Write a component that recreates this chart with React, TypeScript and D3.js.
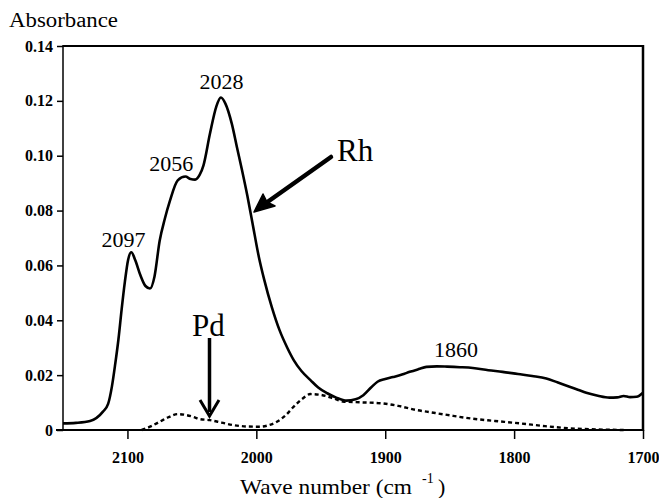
import React, { useEffect, useRef } from "react";
import * as d3 from "d3";

// Rh spectrum (solid)
const rhWave = [2150, 2140, 2129, 2119, 2115, 2112, 2109.5, 2107, 2104.5, 2102, 2099.5, 2097, 2094, 2090, 2086, 2082.5, 2079, 2075, 2071, 2067, 2061, 2055, 2051, 2047.5, 2044, 2041, 2036, 2031, 2027.5, 2024, 2019, 2015, 2011, 2007, 2003, 1998, 1994, 1988, 1982, 1976, 1971, 1965, 1958, 1952, 1945, 1938, 1930, 1923, 1917, 1911, 1906, 1900, 1894, 1887, 1881, 1874, 1868, 1860, 1852, 1842, 1832, 1820, 1809, 1797, 1786, 1775, 1766, 1757, 1750, 1744, 1735, 1726, 1720, 1715, 1710, 1705, 1700];
const rhAbs = [0.0024, 0.0026, 0.0033, 0.0067, 0.0095, 0.016, 0.024, 0.033, 0.044, 0.054, 0.062, 0.0648, 0.062, 0.0565, 0.0525, 0.0516, 0.056, 0.069, 0.077, 0.0836, 0.091, 0.0924, 0.0915, 0.0913, 0.093, 0.0965, 0.108, 0.118, 0.1212, 0.119, 0.1116, 0.103, 0.0945, 0.0855, 0.0755, 0.063, 0.055, 0.0448, 0.0364, 0.03, 0.0255, 0.0215, 0.0182, 0.0155, 0.0134, 0.0118, 0.0107, 0.0112, 0.0127, 0.0155, 0.0176, 0.0186, 0.0193, 0.0202, 0.0212, 0.0222, 0.023, 0.0232, 0.0231, 0.0229, 0.0226, 0.0218, 0.0212, 0.0204, 0.0197, 0.0188, 0.0173, 0.0158, 0.0146, 0.0136, 0.0125, 0.0118, 0.0119, 0.0124, 0.012, 0.0121, 0.0136];

// Pd spectrum (dotted)
const pdWave = [2089, 2082, 2075, 2068, 2061, 2055, 2049, 2044, 2036, 2027, 2018, 2008, 1997, 1990, 1984, 1977, 1971, 1964, 1958, 1950, 1940, 1933, 1920, 1902, 1890, 1876, 1864, 1852, 1832, 1815, 1795, 1776, 1756, 1735, 1715];
const pdAbs = [0, 0.0013, 0.003, 0.0047, 0.0058, 0.0055, 0.0048, 0.004, 0.0036, 0.0027, 0.0018, 0.0013, 0.0012, 0.0018, 0.003, 0.0055, 0.0085, 0.0115, 0.0131, 0.0128, 0.0115, 0.0104, 0.0101, 0.0097, 0.0088, 0.0073, 0.0064, 0.0055, 0.0041, 0.0033, 0.0024, 0.0014, 0.0006, 0.0002, 0];

const xTicks = [2100, 2000, 1900, 1800, 1700];
const yTicks = [0, 0.02, 0.04, 0.06, 0.08, 0.1, 0.12, 0.14];

// peak labels [wavenumber, absorbance of label baseline, text]
const peakLabels: [number, number, string][] = [
  [2103, 0.0668, "2097"],
  [2066, 0.0945, "2056"],
  [2027, 0.1245, "2028"],
  [1845, 0.0265, "1860"],
];

const serif = "'Liberation Serif', 'Times New Roman', serif";

export default function App() {
  const ref = useRef<SVGSVGElement>(null);

  useEffect(() => {
    const svg = d3.select(ref.current);
    svg.selectAll("*").remove();

    const x = d3.scaleLinear().domain([2150, 1700]).range([63, 643]);
    const y = d3.scaleLinear().domain([0, 0.14]).range([430, 46]);

    // y axis
    const gy = svg.append("g")
      .attr("transform", "translate(63,0)")
      .call(d3.axisLeft(y).tickValues(yTicks).tickSize(6).tickSizeOuter(0).tickPadding(4)
        .tickFormat(d => (+d === 0 ? "0" : d3.format(".2f")(+d))));
    gy.select(".domain").remove();
    gy.attr("font-family", null).attr("font-size", null);
    gy.selectAll("text").style("font-family", serif).style("font-size", "16px").style("font-weight", "bold").attr("fill", "#000");
    gy.selectAll("line").attr("stroke", "#000").attr("stroke-width", 1.5);

    // x axis
    const gx = svg.append("g")
      .attr("transform", "translate(0,430)")
      .call(d3.axisBottom(x).tickValues(xTicks).tickSize(9).tickSizeOuter(0).tickPadding(13)
        .tickFormat(d3.format("d")));
    gx.select(".domain").remove();
    gx.attr("font-family", null).attr("font-size", null);
    gx.selectAll("text").style("font-family", serif).style("font-size", "16px").style("font-weight", "bold").attr("fill", "#000");
    gx.selectAll("line").attr("stroke", "#000").attr("stroke-width", 1.5);

    // frame
    svg.append("line").attr("x1", 63).attr("x2", 63).attr("y1", 45).attr("y2", 431).attr("stroke", "#000").attr("stroke-width", 1.5);
    svg.append("line").attr("x1", 56).attr("x2", 643).attr("y1", 430).attr("y2", 430).attr("stroke", "#000").attr("stroke-width", 2);
    svg.append("line").attr("x1", 63).attr("x2", 643).attr("y1", 46).attr("y2", 46).attr("stroke", "#000").attr("stroke-width", 2);
    svg.append("line").attr("x1", 643).attr("x2", 643).attr("y1", 45).attr("y2", 431).attr("stroke", "#000").attr("stroke-width", 2.5);

    const line = d3.line<[number, number]>()
      .x(d => x(d[0]))
      .y(d => y(d[1]))
      .curve(d3.curveMonotoneX);

    const rh = rhWave.map((w, i) => [w, rhAbs[i]] as [number, number]);
    const pd = pdWave.map((w, i) => [w, pdAbs[i]] as [number, number]);

    svg.append("path").attr("d", line(pd)).attr("fill", "none").attr("stroke", "#000")
      .attr("stroke-width", 2.4).attr("stroke-dasharray", "4,3");
    svg.append("path").attr("d", line(rh)).attr("fill", "none").attr("stroke", "#000")
      .attr("stroke-width", 2.6).attr("stroke-linejoin", "round");

    // peak labels
    svg.selectAll("text.peak").data(peakLabels).enter().append("text")
      .attr("class", "peak")
      .attr("x", d => x(d[0]))
      .attr("y", d => y(d[1]))
      .attr("text-anchor", "middle")
      .style("font-family", serif).style("font-size", "22px")
      .text(d => d[2]);

    // Rh arrow
    svg.append("text").attr("x", 337).attr("y", 161).style("font-family", serif).style("font-size", "31px").text("Rh");
    svg.append("line").attr("x1", 331).attr("y1", 157).attr("x2", 266).attr("y2", 203)
      .attr("stroke", "#000").attr("stroke-width", 4.5).attr("stroke-linecap", "round");
    svg.append("path").attr("d", "M254,212 L263,194 L267,202 L275,206 Z").attr("fill", "#000").attr("stroke", "#000").attr("stroke-width", 1.5).attr("stroke-linejoin", "round");

    // Pd arrow
    svg.append("text").attr("x", 192).attr("y", 336).style("font-family", serif).style("font-size", "31px").text("Pd");
    svg.append("line").attr("x1", 209.5).attr("y1", 338).attr("x2", 209.5).attr("y2", 412)
      .attr("stroke", "#000").attr("stroke-width", 3.5);
    svg.append("path").attr("d", "M200,400 L209.5,416 L219,400").attr("fill", "none").attr("stroke", "#000").attr("stroke-width", 3);

    // axis titles
    svg.append("text").attr("x", 9).attr("y", 27).style("font-family", serif).style("font-size", "20px")
      .attr("textLength", 109).attr("lengthAdjust", "spacingAndGlyphs").text("Absorbance");
    const t = svg.append("text").attr("x", 240).attr("y", 494).style("font-family", serif).style("font-size", "22px");
    t.append("tspan").attr("textLength", 172).attr("lengthAdjust", "spacingAndGlyphs").text("Wave number (cm");
    t.append("tspan").attr("x", 422).attr("dy", -11).style("font-size", "14px").text("-1");
    t.append("tspan").attr("x", 438).attr("dy", 11).text(")");
  }, []);

  return (
    <svg ref={ref} width={659} height={498}
      style={{ position: "absolute", left: 0, top: 0, background: "#fff", display: "block" }} />
  );
}
